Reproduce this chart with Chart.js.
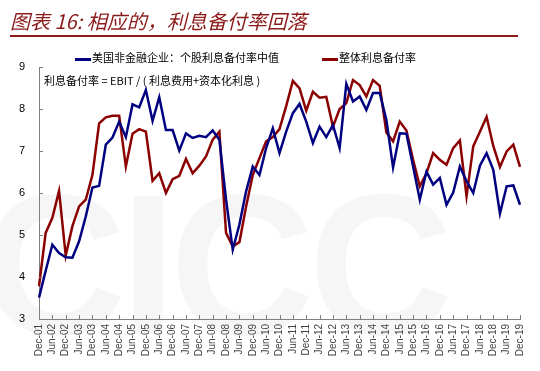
<!DOCTYPE html>
<html>
<head>
<meta charset="utf-8">
<script src="https://cdn.jsdelivr.net/npm/chart.js@4/dist/chart.umd.min.js"></script>
<style>
    body { margin: 0; background: #fff; }
    #wrap { position: relative; width: 540px; height: 371px; overflow: hidden; font-family: "Noto Sans CJK SC", sans-serif; }
    #mark { position: absolute; left: -18px; top: 150px; font: bold 200px "Liberation Sans", Arial, sans-serif; color: #f6f6f6; letter-spacing: -6px; z-index: 0; }
    #chart { position: absolute; left: 0; top: 0; z-index: 1; }
    #title { position: absolute; left: 10px; top: 6px; font-size: 20px; font-style: italic; color: #8b1a1a; z-index: 2; white-space: nowrap; }
    #rule { position: absolute; left: 10px; top: 35px; width: 508px; height: 2px; background: #8b1a1a; z-index: 2; }
    .leg { position: absolute; top: 50px; font-size: 11px; color: #000; z-index: 2; white-space: nowrap; line-height: 14px; }
    .leg i { display: inline-block; width: 16px; height: 3px; vertical-align: middle; margin-right: 1px; }
    #note { position: absolute; left: 44px; top: 72px; font-size: 11px; color: #000; z-index: 2; white-space: nowrap; }
</style>
</head>
<body>
<div id="wrap">
    <div id="mark">CICC</div>
    <canvas id="chart" width="540" height="371"></canvas>
    <div id="title">图表 16: 相应的，利息备付率回落</div>
    <div id="rule"></div>
    <div class="leg" style="left:75px"><i style="background:#000080"></i>美国非金融企业：个股利息备付率中值</div>
    <div class="leg" style="left:322px"><i style="background:#8b0000"></i>整体利息备付率</div>
    <div id="note">利息备付率 = EBIT / ( 利息费用+资本化利息 )</div>
</div>
<script>
// 季度数据 Dec-01 ~ Dec-19
const quarters = [
    'Dec-01', 'Mar-02', 'Jun-02', 'Sep-02', 'Dec-02', 'Mar-03', 'Jun-03', 'Sep-03', 'Dec-03',
    'Mar-04', 'Jun-04', 'Sep-04', 'Dec-04', 'Mar-05', 'Jun-05', 'Sep-05', 'Dec-05',
    'Mar-06', 'Jun-06', 'Sep-06', 'Dec-06', 'Mar-07', 'Jun-07', 'Sep-07', 'Dec-07',
    'Mar-08', 'Jun-08', 'Sep-08', 'Dec-08', 'Mar-09', 'Jun-09', 'Sep-09', 'Dec-09',
    'Mar-10', 'Jun-10', 'Sep-10', 'Dec-10', 'Mar-11', 'Jun-11', 'Sep-11', 'Dec-11',
    'Mar-12', 'Jun-12', 'Sep-12', 'Dec-12', 'Mar-13', 'Jun-13', 'Sep-13', 'Dec-13',
    'Mar-14', 'Jun-14', 'Sep-14', 'Dec-14', 'Mar-15', 'Jun-15', 'Sep-15', 'Dec-15',
    'Mar-16', 'Jun-16', 'Sep-16', 'Dec-16', 'Mar-17', 'Jun-17', 'Sep-17', 'Dec-17',
    'Mar-18', 'Jun-18', 'Sep-18', 'Dec-18', 'Mar-19', 'Jun-19', 'Sep-19', 'Dec-19'
];

// 个股利息备付率中值
const medianCoverage = [
    3.51, 4.15, 4.77, 4.57, 4.47, 4.46, 4.85, 5.44, 6.13,
    6.17, 7.15, 7.32, 7.70, 7.33, 8.11, 8.04, 8.45,
    7.72, 8.28, 7.50, 7.50, 7.01, 7.42, 7.31, 7.36,
    7.33, 7.49, 7.27, 5.84, 4.65, 5.25, 6.04, 6.63,
    6.43, 7.07, 7.54, 6.95, 7.46, 7.90, 8.12, 7.70,
    7.19, 7.58, 7.33, 7.62, 7.07, 8.60, 8.18, 8.30,
    7.98, 8.38, 8.38, 7.74, 6.61, 7.42, 7.41, 6.63,
    5.84, 6.51, 6.20, 6.36, 5.72, 6.01, 6.63, 6.28,
    6.00, 6.65, 6.95, 6.55, 5.51, 6.16, 6.18, 5.72
];

// 整体利息备付率
const aggregateCoverage = [
    3.78, 5.05, 5.41, 6.05, 4.51, 5.21, 5.68, 5.84, 6.43,
    7.66, 7.80, 7.84, 7.84, 6.63, 7.41, 7.52, 7.46,
    6.29, 6.47, 6.00, 6.33, 6.41, 6.81, 6.47, 6.65,
    6.87, 7.27, 7.46, 5.05, 4.73, 4.83, 5.68, 6.43,
    6.83, 7.23, 7.33, 7.52, 8.07, 8.67, 8.49, 7.96,
    8.41, 8.27, 8.29, 7.58, 8.00, 8.14, 8.69, 8.57,
    8.30, 8.69, 8.55, 7.44, 7.23, 7.70, 7.49, 6.79,
    6.16, 6.47, 6.95, 6.79, 6.67, 7.07, 7.25, 5.92,
    7.11, 7.46, 7.81, 7.12, 6.62, 6.99, 7.15, 6.62
];

const yTicks = [3, 4, 5, 6, 7, 8, 9];

// 坐标轴刻度朝内
const innerTicks = {
    id: 'innerTicks',
    afterDraw(chart) {
        const ctx = chart.ctx;
        const x = chart.scales.x;
        const y = chart.scales.y;
        ctx.save();
        ctx.strokeStyle = '#808080';
        ctx.lineWidth = 1;
        ctx.beginPath();
        quarters.forEach((q, i) => {
            if (i % 2 !== 0) return;
            const px = Math.round(x.getPixelForValue(i)) + 0.5;
            ctx.moveTo(px, y.bottom);
            ctx.lineTo(px, y.bottom - 4);
        });
        yTicks.forEach(v => {
            const py = Math.round(y.getPixelForValue(v)) + 0.5;
            ctx.moveTo(x.left, py);
            ctx.lineTo(x.left + 4, py);
        });
        ctx.stroke();
        ctx.restore();
    }
};

new Chart(document.getElementById('chart'), {
    type: 'line',
    data: {
        labels: quarters,
        datasets: [{
            label: '美国非金融企业：个股利息备付率中值',
            data: medianCoverage,
            borderColor: '#000080',
            borderWidth: 2.5,
            pointRadius: 0,
            tension: 0
        }, {
            label: '整体利息备付率',
            data: aggregateCoverage,
            borderColor: '#8b0000',
            borderWidth: 2.5,
            pointRadius: 0,
            tension: 0
        }]
    },
    options: {
        responsive: false,
        animation: false,
        layout: { padding: { top: 67, right: 20, left: 0, bottom: 0 } },
        plugins: {
            legend: { display: false },
            tooltip: { enabled: false }
        },
        scales: {
            x: {
                grid: { display: false, drawTicks: false },
                border: { display: true, color: '#808080', width: 1 },
                ticks: {
                    autoSkip: false,
                    maxRotation: 90,
                    minRotation: 90,
                    padding: 5,
                    color: '#444',
                    font: { family: 'Liberation Sans', size: 10 },
                    callback: (v, i) => i % 2 === 0 ? quarters[i] : null
                },
                afterFit: s => { s.height = 52; }
            },
            y: {
                min: 3,
                max: 9,
                grid: { display: false, drawTicks: false },
                border: { display: true, color: '#808080', width: 1 },
                ticks: {
                    stepSize: 1,
                    padding: 14,
                    color: '#000',
                    font: { family: 'Liberation Sans', size: 11 }
                },
                afterFit: s => { s.width = 39; }
            }
        }
    },
    plugins: [innerTicks]
});
</script>
</body>
</html>
